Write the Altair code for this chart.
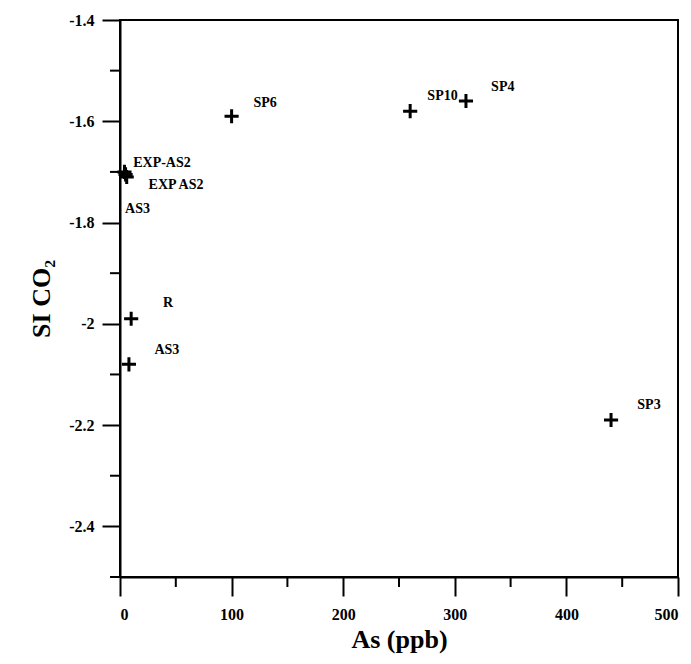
import altair as alt
import pandas as pd

# Data points
pt_x = [100, 260, 310, 440, 4, 6, 5, 10, 8]
pt_y = [-1.59, -1.58, -1.56, -2.19, -1.70, -1.71, -1.705, -1.99, -2.08]

# Labels and their anchor positions (data units)
lab_text = ["SP6", "SP10", "SP4", "SP3", "EXP-AS2", "EXP AS2", "AS3", "R", "AS3"]
lab_x = [130, 289, 343, 474, 37.6, 50.2, 15.7, 43, 42]
lab_y = [-1.564, -1.55, -1.532, -2.161, -1.683, -1.726, -1.774, -1.959, -2.052]

x_major = [0, 100, 200, 300, 400, 500]
x_minor = [50, 150, 250, 350, 450]
y_major = [-2.4, -2.2, -2.0, -1.8, -1.6, -1.4]
y_minor = [-2.5, -2.3, -2.1, -1.9, -1.7, -1.5]

pts = pd.DataFrame({"x": pt_x, "y": pt_y})
labs = pd.DataFrame({"x": lab_x, "y": lab_y, "t": lab_text})
xmin_df = pd.DataFrame({"x": x_minor})
ymin_df = pd.DataFrame({"y": y_minor})

FONT = "Liberation Serif"

xscale = alt.Scale(domain=[0, 500], nice=False, zero=False)
yscale = alt.Scale(domain=[-2.5, -1.4], nice=False, zero=False)

xaxis = alt.Axis(
    values=x_major,
    labelExpr="'' + datum.value",
    tickSize=19, tickWidth=2, tickColor="black",
    domainColor="black", domainWidth=2,
    grid=False,
    labelFont=FONT, labelFontSize=16, labelFontWeight="bold", labelColor="black",
    labelPadding=10,
    title="As (ppb)", titleFont=FONT, titleFontSize=26, titleFontWeight="bold",
    titleColor="black", titlePadding=4,
)
yaxis = alt.Axis(
    values=y_major,
    labelExpr="'' + datum.value",
    tickSize=18, tickWidth=2, tickColor="black",
    domainColor="black", domainWidth=2,
    grid=False,
    labelFont=FONT, labelFontSize=16, labelFontWeight="bold", labelColor="black",
    labelPadding=8,
    title="SI CO₂", titleFont=FONT, titleFontSize=26, titleFontWeight="bold",
    titleColor="black", titlePadding=14,
)

PLUS = "M-1,0H1M0,-1V1"

points = alt.Chart(pts).mark_point(
    shape=PLUS, filled=False, color="black", size=200, strokeWidth=3, opacity=1
).encode(
    x=alt.X("x:Q", scale=xscale, axis=xaxis),
    y=alt.Y("y:Q", scale=yscale, axis=yaxis),
)

texts = alt.Chart(labs).mark_text(
    font=FONT, fontSize=14, fontWeight="bold", color="black"
).encode(
    x=alt.X("x:Q", scale=xscale),
    y=alt.Y("y:Q", scale=yscale),
    text="t:N",
)

xminor = alt.Chart(xmin_df).mark_rule(color="black", strokeWidth=2).encode(
    x=alt.X("x:Q", scale=xscale),
    y=alt.value(557),
    y2=alt.value(567),
)
yminor = alt.Chart(ymin_df).mark_rule(color="black", strokeWidth=2).encode(
    y=alt.Y("y:Q", scale=yscale),
    x=alt.value(-10),
    x2=alt.value(0),
)

chart = alt.layer(points, texts, xminor, yminor).properties(
    width=558, height=557,
    autosize=alt.AutoSizeParams(type="none"),
    padding={"left": 112, "top": 12, "right": 5, "bottom": 87},
    background="white",
).configure_view(stroke="black", strokeWidth=2)

chart.save("out.html", embed_options={"renderer": "svg", "actions": False})
